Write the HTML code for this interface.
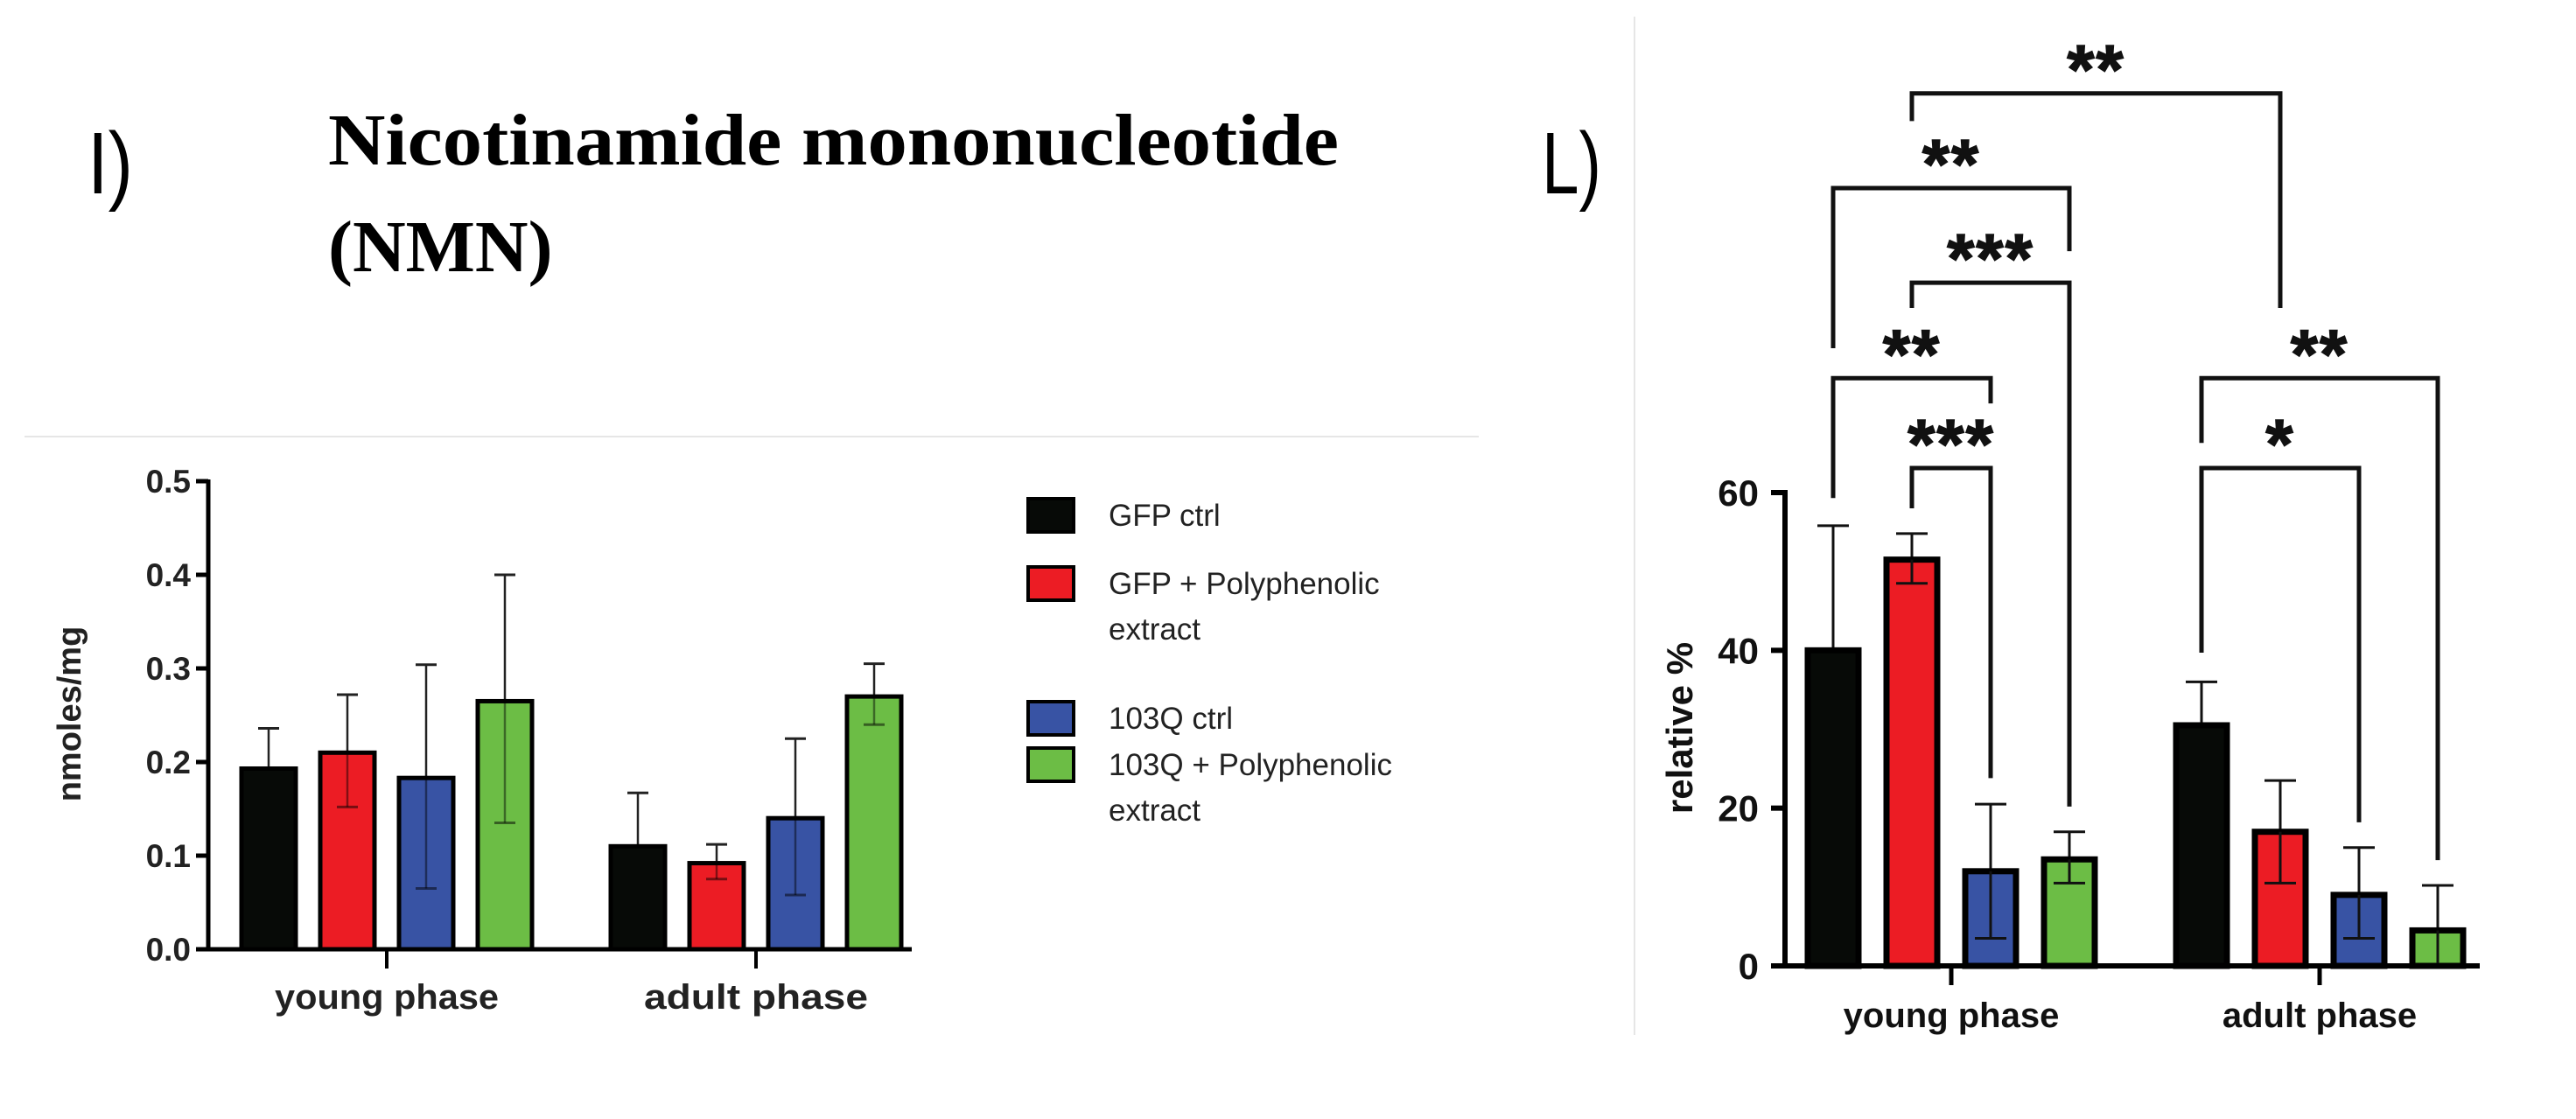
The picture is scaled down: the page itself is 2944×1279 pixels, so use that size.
<!DOCTYPE html>
<html><head><meta charset="utf-8"><style>
html,body{margin:0;padding:0;background:#fff;}
svg{display:block;font-family:"Liberation Sans",sans-serif;}
</style></head><body>
<svg id="root" width="2944" height="1279" viewBox="0 0 2944 1279" xmlns="http://www.w3.org/2000/svg">
<text x="100" y="221" font-size="100" font-family="Liberation Sans" textLength="52" lengthAdjust="spacingAndGlyphs">I)</text>
<text x="375" y="188" font-size="84" font-weight="bold" font-family="Liberation Serif" textLength="1155" lengthAdjust="spacingAndGlyphs">Nicotinamide mononucleotide</text>
<text x="375" y="310" font-size="84" font-weight="bold" font-family="Liberation Serif">(NMN)</text>
<line x1="28" y1="499" x2="1690" y2="499" stroke="#e6e6e6" stroke-width="2"/>
<line x1="1868" y1="19" x2="1868" y2="1183" stroke="#e6e6e6" stroke-width="2"/>
<text x="1762" y="221" font-size="100" font-family="Liberation Sans" textLength="68" lengthAdjust="spacingAndGlyphs">L)</text>
<g id="left"></g>
<g id="legend"></g>
<g id="right"></g>
</svg>
<script>
// ---- Left chart data (NMN) ----
const categories = ["young phase", "adult phase"];
const seriesNames = ["GFP ctrl", "GFP + Polyphenolic extract", "103Q ctrl", "103Q + Polyphenolic extract"];
const nmnValues = [[0.193, 0.110], [0.210, 0.092], [0.183, 0.140], [0.265, 0.270]];
const nmnErrHigh = [[0.236, 0.167], [0.272, 0.112], [0.304, 0.225], [0.400, 0.305]];
const nmnErrLow = [[null, null], [0.152, 0.075], [0.065, 0.058], [0.135, 0.240]];
const nmnTicks = [0.0, 0.1, 0.2, 0.3, 0.4, 0.5];
const nmnTickLabels = ["0.0", "0.1", "0.2", "0.3", "0.4", "0.5"];
// ---- Right chart data (relative %) ----
const relValues = [[40, 30.5], [51.5, 17], [12, 9], [13.5, 4.5]];
const relErrHigh = [[55.8, 36], [54.8, 23.5], [20.5, 15], [17, 10.2]];
const relErrLow = [[null, null], [48.5, 10.5], [3.5, 3.5], [10.5, 0]];
const relTicks = [0, 20, 40, 60];
const relTickLabels = ["0", "20", "40", "60"];
// brackets: [group1, series1, group2, series2, level(%), leftDrop(%), rightDrop(%), label]
const bracketPairs = [
  [0,1,1,1, 110.6, 107.1, 83.4, "**"],
  [0,0,0,3, 98.6, 78.3, 90.6, "**"],
  [0,1,0,3, 86.6, 83.4, 20.2, "***"],
  [0,0,0,2, 74.5, 59.3, 71.3, "**"],
  [0,1,0,2, 63.1, 58.0, 23.8, "***"],
  [1,0,1,3, 74.5, 66.3, 13.4, "**"],
  [1,0,1,2, 63.1, 39.7, 18.2, "*"]
];
const colors = ["#070a07", "#ec1c24", "#3853a4", "#6cbd45"];
const NS = "http://www.w3.org/2000/svg";
function mk(parent, tag, attrs){ const e=document.createElementNS(NS,tag); for(const k in attrs) e.setAttribute(k,attrs[k]); parent.appendChild(e); return e; }

// ===== Left chart =====
const L = document.getElementById('left');
const lx0=238, lx1=1042, ly0=1085, ly1=550, lyMax=0.5;
function ly(v){ return ly0 - (v/lyMax)*(ly0-ly1); }
const lGroupStart=[276, 698], lBarStep=90, lBarW=62;
function lbx(g,s){ return lGroupStart[g] + s*lBarStep; }
nmnTicks.forEach((t,i)=>{
  const tk=mk(L,'line',{x1:lx0-14,y1:ly(t),x2:lx0,y2:ly(t),stroke:'#000','stroke-width':5});
   
  const tl=mk(L,'text',{x:lx0-20,y:ly(t)+13,'font-size':37,'font-weight':'bold','text-anchor':'end',fill:'#222'});
  tl.textContent=nmnTickLabels[i];
   
});
categories.forEach((c,g)=>{
  for(let s=0;s<4;s++){
    const v=nmnValues[s][g], x=lbx(g,s);
    const hi=nmnErrHigh[s][g], lo=nmnErrLow[s][g];
    const cx=x+lBarW/2;
    const el=mk(L,'line',{x1:cx,y1:ly(hi),x2:cx,y2:ly(v),stroke:'#222','stroke-width':2.5});
     
    mk(L,'line',{x1:cx-12,y1:ly(hi),x2:cx+12,y2:ly(hi),stroke:'#222','stroke-width':3});
    const b=mk(L,'rect',{x:x,y:ly(v),width:lBarW,height:ly(0)-ly(v),fill:colors[s],stroke:'#000','stroke-width':5});
     
    if(lo!==null){
      mk(L,'line',{x1:cx,y1:ly(v),x2:cx,y2:ly(lo),stroke:'rgba(0,0,0,0.45)','stroke-width':2.5});
      mk(L,'line',{x1:cx-12,y1:ly(lo),x2:cx+12,y2:ly(lo),stroke:'rgba(0,0,0,0.5)','stroke-width':3});
    }
  }
  const gx=(lbx(g,0)+lbx(g,3)+lBarW)/2;
  mk(L,'line',{x1:gx,y1:ly0,x2:gx,y2:ly0+22,stroke:'#000','stroke-width':4});
  const ct=mk(L,'text',{x:gx,y:ly0+68,'font-size':40,'font-weight':'bold','text-anchor':'middle',fill:'#222',textLength:256,lengthAdjust:'spacingAndGlyphs'});
  ct.textContent=c;
   
});
const lya=mk(L,'line',{x1:lx0,y1:ly1-2,x2:lx0,y2:ly0+2,stroke:'#000','stroke-width':5});
 
const lxa=mk(L,'line',{x1:lx0-2,y1:ly0,x2:lx1,y2:ly0,stroke:'#000','stroke-width':5});
 
const lyt=mk(L,'text',{x:0,y:0,'font-size':38,'font-weight':'bold','text-anchor':'middle',fill:'#222',transform:'translate(92,816) rotate(-90)'});
lyt.textContent='nmoles/mg';
 

// ===== Legend =====
const LG=document.getElementById('legend');
const legSwatchY=[570, 648, 802, 855];
const legLines=[["GFP ctrl"],["GFP + Polyphenolic","extract"],["103Q ctrl"],["103Q + Polyphenolic","extract"]];
seriesNames.forEach((n,i)=>{
  const sw=mk(LG,'rect',{x:1175,y:legSwatchY[i],width:52,height:38,fill:colors[i],stroke:'#000','stroke-width':4});
   
  legLines[i].forEach((t,j)=>{
    const tx=mk(LG,'text',{x:1267,y:legSwatchY[i]+31+j*52,'font-size':35,fill:'#222'});
    tx.textContent=t;
     
  });
});

// ===== Right chart =====
const R=document.getElementById('right');
const rx0=2040, rx1=2834, ry0=1104, ry60=563;
function ry(v){ return ry0 - (v/60)*(ry0-ry60); }
const rGroupStart=[2066, 2487], rBarStep=90, rBarW=58;
function rbx(g,s){ return rGroupStart[g]+s*rBarStep; }
function rcx(g,s){ return rbx(g,s)+rBarW/2; }
relTicks.forEach((t,i)=>{
  const tk=mk(R,'line',{x1:rx0-16,y1:ry(t),x2:rx0,y2:ry(t),stroke:'#000','stroke-width':6});
   
  const tl=mk(R,'text',{x:rx0-30,y:ry(t)+15,'font-size':42,'font-weight':'bold','text-anchor':'end',fill:'#111'});
  tl.textContent=relTickLabels[i];
   
});
categories.forEach((c,g)=>{
  for(let s=0;s<4;s++){
    const v=relValues[s][g], x=rbx(g,s), cx=rcx(g,s);
    const hi=relErrHigh[s][g], lo=relErrLow[s][g];
    mk(R,'line',{x1:cx,y1:ry(hi),x2:cx,y2:ry(v),stroke:'#111','stroke-width':3});
    mk(R,'line',{x1:cx-18,y1:ry(hi),x2:cx+18,y2:ry(hi),stroke:'#111','stroke-width':3});
    const b=mk(R,'rect',{x:x,y:ry(v),width:rBarW,height:ry(0)-ry(v),fill:colors[s],stroke:'#000','stroke-width':7});
     
    if(lo!==null){
      mk(R,'line',{x1:cx,y1:ry(v),x2:cx,y2:ry(lo),stroke:'#111','stroke-width':3});
      mk(R,'line',{x1:cx-18,y1:ry(lo),x2:cx+18,y2:ry(lo),stroke:'#111','stroke-width':3});
    }
  }
  const gx=(rbx(g,0)+rbx(g,3)+rBarW)/2;
  mk(R,'line',{x1:gx,y1:ry0,x2:gx,y2:ry0+22,stroke:'#000','stroke-width':5});
  const ct=mk(R,'text',{x:gx,y:ry0+70,'font-size':40,'font-weight':'bold','text-anchor':'middle',fill:'#111'});
  ct.textContent=c;
   
});
const rya=mk(R,'line',{x1:rx0,y1:ry60-3,x2:rx0,y2:ry0+3,stroke:'#000','stroke-width':6});
 
const rxa=mk(R,'line',{x1:rx0-3,y1:ry0,x2:rx1,y2:ry0,stroke:'#000','stroke-width':6});
 
const ryt=mk(R,'text',{x:0,y:0,'font-size':42,'font-weight':'bold','text-anchor':'middle',fill:'#111',transform:'translate(1934,832) rotate(-90)'});
ryt.textContent='relative %';
 
bracketPairs.forEach(bp=>{
  const [g1,s1,g2,s2,lev,d1,d2,lab]=bp;
  const x1=rcx(g1,s1), x2=rcx(g2,s2), y=ry(lev);
  const p=mk(R,'path',{d:`M${x1},${ry(d1)} L${x1},${y} L${x2},${y} L${x2},${ry(d2)}`,fill:'none',stroke:'#111','stroke-width':5});
   
  const t=mk(R,'text',{x:(x1+x2)/2,y:y,'font-size':80,'font-weight':'bold','text-anchor':'middle',fill:'#111','letter-spacing':'2',stroke:'#111','stroke-width':1.5});
  t.textContent=lab;
   
});
</script>
</body></html>
